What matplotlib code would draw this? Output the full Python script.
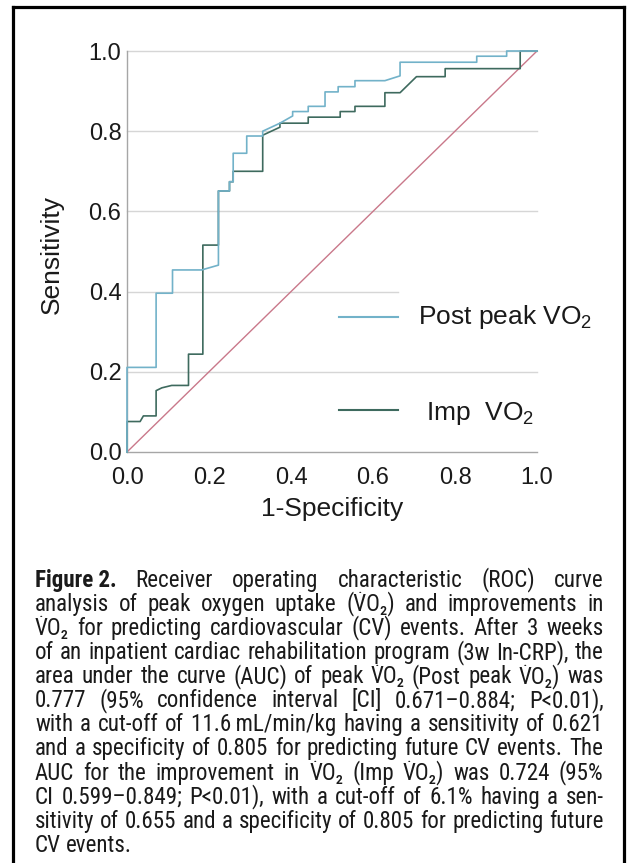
import numpy as np
import matplotlib
matplotlib.use("Agg")
import matplotlib.pyplot as plt
from matplotlib import font_manager
from matplotlib.font_manager import FontProperties
from matplotlib.lines import Line2D

# ---------------------------------------------
# ROC curve vertices
post_x = [0, 0, 0.071, 0.071, 0.111, 0.111, 0.182, 0.223, 0.223, 0.250, 0.250,
          0.259, 0.259, 0.292, 0.292, 0.331, 0.331, 0.373, 0.404, 0.404, 0.442,
          0.442, 0.483, 0.483, 0.515, 0.515, 0.556, 0.556, 0.629, 0.666, 0.666,
          0.853, 0.853, 0.926, 0.926, 1.0]
post_y = [0, 0.211, 0.211, 0.396, 0.396, 0.454, 0.454, 0.466, 0.651, 0.651, 0.674,
          0.674, 0.745, 0.745, 0.788, 0.788, 0.800, 0.820, 0.838, 0.849, 0.849,
          0.862, 0.862, 0.898, 0.898, 0.911, 0.911, 0.926, 0.926, 0.938, 0.972,
          0.972, 0.987, 0.987, 1.0, 1.0]

imp_x = [0, 0, 0.032, 0.040, 0.071, 0.071, 0.085, 0.109, 0.150, 0.150, 0.185,
         0.185, 0.223, 0.223, 0.250, 0.250, 0.259, 0.259, 0.331, 0.331, 0.373,
         0.373, 0.442, 0.442, 0.520, 0.520, 0.556, 0.556, 0.629, 0.629, 0.666,
         0.706, 0.776, 0.776, 0.959, 0.959, 1.0]
imp_y = [0, 0.076, 0.076, 0.090, 0.090, 0.153, 0.160, 0.166, 0.166, 0.244, 0.244,
         0.516, 0.516, 0.651, 0.651, 0.674, 0.674, 0.700, 0.700, 0.790, 0.810,
         0.820, 0.820, 0.835, 0.835, 0.849, 0.849, 0.862, 0.862, 0.896, 0.896,
         0.936, 0.936, 0.956, 0.956, 1.0, 1.0]

ref_x = [0, 1]
ref_y = [0, 1]

ticks = [0.0, 0.2, 0.4, 0.6, 0.8, 1.0]
tick_labels = ["0.0", "0.2", "0.4", "0.6", "0.8", "1.0"]

# caption, "^" marks a dotted V, "|" ends the bold head
caption_lines = [
    "Figure 2.|Receiver operating characteristic (ROC) curve",
    "analysis of peak oxygen uptake (^VO\u2082) and improvements in",
    "^VO\u2082 for predicting cardiovascular (CV) events. After 3 weeks",
    "of an inpatient cardiac rehabilitation program (3w In-CRP), the",
    "area under the curve (AUC) of peak ^VO\u2082 (Post peak ^VO\u2082) was",
    "0.777 (95% confidence interval [CI] 0.671\u20130.884; P<0.01),",
    "with a cut-off of 11.6\u2009mL/min/kg having a sensitivity of 0.621",
    "and a specificity of 0.805 for predicting future CV events. The",
    "AUC for the improvement in ^VO\u2082 (Imp ^VO\u2082) was 0.724 (95%",
    "CI 0.599\u20130.849; P<0.01), with a cut-off of 6.1% having a sen-",
    "sitivity of 0.655 and a specificity of 0.805 for predicting future",
    "CV events.",
]

blue = "#72b2c9"
dark = "#3e6a5e"
diag = "#c9788a"
grid = "#d6d6d6"
spine = "#a6a6a6"
ink = "#1a1a1a"

W, H = 627, 863
plt.rcParams['font.family'] = ['Liberation Sans', 'DejaVu Sans']
plt.rcParams['mathtext.fontset'] = 'custom'
plt.rcParams['mathtext.rm'] = 'Liberation Sans'
plt.rcParams['mathtext.it'] = 'Liberation Sans:italic'

fig = plt.figure(figsize=(W / 100, H / 100), dpi=100)

def fx(px):
  return px / W

def fy(py):
  return 1 - py / H

# axes box in pixels: left 127, right 537, top 51, bottom 452
ax = fig.add_axes([fx(127), fy(452), (537 - 127) / W, (452 - 51) / H])
ax.set_xlim(0, 1)
ax.set_ylim(0, 1)
for s in ["top", "right"]:
  ax.spines[s].set_visible(False)
for s in ["left", "bottom"]:
  ax.spines[s].set_color(spine)
  ax.spines[s].set_linewidth(1.0)

for g in [0.2, 0.6, 0.8, 1.0]:
  ax.axhline(g, color=grid, lw=1.0, zorder=0, clip_on=False)
ax.axhline(0.4, xmax=0.662, color=grid, lw=1.0, zorder=0)

ax.plot(ref_x, ref_y, color=diag, lw=1.0, zorder=2)
ax.plot(imp_x, imp_y, color=dark, lw=1.2, zorder=3, clip_on=False)
ax.plot(post_x, post_y, color=blue, lw=1.2, zorder=4, clip_on=False)

ax.set_xticks(ticks)
ax.set_xticklabels(tick_labels)
ax.set_yticks(ticks)
ax.set_yticklabels(tick_labels)
ax.tick_params(axis="both", length=0, labelsize=17, labelcolor=ink)
ax.tick_params(axis="x", pad=11)
ax.tick_params(axis="y", pad=4)
for lab in ax.get_yticklabels():
  lab.set_verticalalignment("center_baseline")

# legend drawn by hand
ax.plot([0.516, 0.662], [0.336, 0.336], color=blue, lw=1.5, clip_on=False)
ax.plot([0.516, 0.662], [0.105, 0.105], color=dark, lw=1.5, clip_on=False)
ax.text(0.71, 0.318, "Post peak VO$_2$", fontsize=19, color=ink,
        va="baseline", clip_on=False)
ax.text(0.729, 0.080, "Imp  VO$_2$", fontsize=19, color=ink,
        va="baseline", clip_on=False)

fig.text(fx(332), fy(516), "1-Specificity", fontsize=19, color=ink,
         ha="center", va="baseline")
fig.text(fx(52), fy(254), "Sensitivity", fontsize=19, color=ink,
         rotation=90, ha="center", va="center")

# outer frame (left, top, right)
fr = dict(color="black", lw=2.3, transform=fig.transFigure, solid_capstyle="projecting")
fig.add_artist(Line2D([fx(13), fx(13)], [fy(7), fy(870)], **fr))
fig.add_artist(Line2D([fx(13), fx(624)], [fy(7), fy(7)], **fr))
fig.add_artist(Line2D([fx(624), fx(624)], [fy(7), fy(870)], **fr))

#-------------------------------------------
# pick a condensed sans for the caption if one is installed
def wnum(w):
  if isinstance(w, str):
    return font_manager.weight_dict.get(w, 400)
  return w

def find_font(bold):
  fl = font_manager.fontManager.ttflist
  def ok(f):
    wt = wnum(f.weight)
    good_w = (wt >= 600) if bold else (350 <= wt <= 500)
    return good_w and f.style == "normal"
  tests = [
    lambda f: f.name == "Liberation Sans Narrow",
    lambda f: f.name.startswith("Noto Sans") and "ondensed" in (f.name + str(f.stretch)) and f.name in ("Noto Sans", "Noto Sans Condensed"),
    lambda f: f.name == "Roboto Condensed",
    lambda f: f.name.startswith("DejaVu Sans") and "ondensed" in (f.name + str(f.stretch)) and "Mono" not in f.name,
    lambda f: f.name.startswith("Open Sans") and "ondensed" in (f.name + str(f.stretch)),
  ]
  for t in tests:
    for f in fl:
      if t(f) and ok(f) and str(f.stretch) not in ("extra-condensed", "ultra-condensed"):
        return FontProperties(fname=f.fname)
  return FontProperties(family=["Liberation Sans", "DejaVu Sans"],
                        weight="bold" if bold else "normal")

fp_reg = find_font(False)
fp_bold = find_font(True)

renderer = fig.canvas.get_renderer()

def props(size, weight):
  p = (fp_bold if weight == "bold" else fp_reg).copy()
  p.set_size(size)
  return p

def measure(s, size, weight="normal"):
  if s == "":
    return 0.0
  t = fig.text(0, 0, s, fontproperties=props(size, weight))
  w = t.get_window_extent(renderer).width
  t.remove()
  return w

def split_words(line):
  if "|" in line:
    head, rest = line.split("|")
    return [(head, "bold")] + [(w, "normal") for w in rest.split(" ")]
  return [(w, "normal") for w in line.split(" ")]

left_px, right_px = 35.0, 603.5
width_px = right_px - left_px

base = 16.0
space0 = measure("a a", base) - measure("aa", base)
widest = 0
for line in caption_lines[:-1]:
  words = split_words(line)
  nat = sum(measure(w.replace("^", ""), base, wt) for w, wt in words)
  nat += space0 * (len(words) - 1)
  widest = max(widest, nat)
fs = min(16.6, base * width_px / widest * 0.99)

space = measure("a a", fs) - measure("aa", fs)
cap_h = 0.716 * fs * 100 / 72
v_w = measure("V", fs)

for i, line in enumerate(caption_lines):
  base_py = 586.7 + 24.1 * i
  words = split_words(line)
  shown = [(w.replace("^", ""), wt) for w, wt in words]
  widths = [measure(w, fs, wt) for w, wt in shown]
  if i < len(caption_lines) - 1 and len(words) > 1:
    gap = (width_px - sum(widths)) / (len(words) - 1)
  else:
    gap = space
  x = left_px
  for (raw, wt), (w, _), wd in zip(words, shown, widths):
    fig.text(fx(x), fy(base_py), w, fontproperties=props(fs, wt),
             color=ink, va="baseline", ha="left")
    # dots over V
    clean = ""
    for ch in raw:
      if ch == "^":
        dx = x + measure(clean, fs) + v_w / 2
        fig.text(fx(dx), fy(base_py - cap_h - 1.0), ".",
                 fontproperties=props(fs * 0.75, "normal"),
                 color=ink, ha="center", va="baseline")
      else:
        clean += ch
    x += wd + gap

fig.savefig("out.png", dpi=100)
